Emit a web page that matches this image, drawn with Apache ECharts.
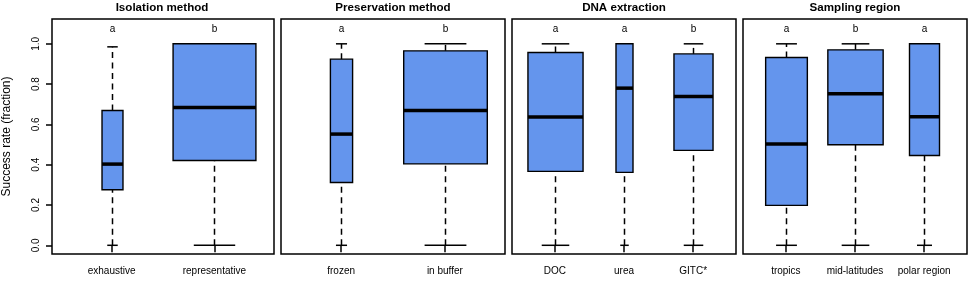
<!DOCTYPE html>
<html>
<head>
<meta charset="utf-8">
<script src="https://cdn.jsdelivr.net/npm/echarts@6/dist/echarts.min.js"></script>
<style>
  html, body { margin: 0; padding: 0; background: #fff; }
  #chart { width: 970px; height: 281px; }
</style>
</head>
<body>
<div id="chart"></div>
<script>
const panelTitles = ['Isolation method', 'Preservation method', 'DNA extraction', 'Sampling region'];

const isolationCats = ['exhaustive', 'representative'];
const preservationCats = ['frozen', 'in buffer'];
const extractionCats = ['DOC', 'urea', 'GITC*'];
const regionCats = ['tropics', 'mid-latitudes', 'polar region'];

// [lower whisker, Q1, median, Q3, upper whisker]
const isolationStats = [[0, 0.276, 0.403, 0.669, 0.985], [0, 0.421, 0.684, 1.0, 1.0]];
const preservationStats = [[0, 0.312, 0.552, 0.924, 1.0], [0, 0.404, 0.669, 0.965, 1.0]];
const extractionStats = [[0, 0.367, 0.637, 0.957, 1.0], [0, 0.362, 0.780, 1.0, 1.0], [0, 0.471, 0.739, 0.950, 1.0]];
const regionStats = [[0, 0.198, 0.503, 0.932, 1.0], [0, 0.499, 0.752, 0.970, 1.0], [0, 0.446, 0.638, 1.0, 1.0]];

const isolationLetters = ['a', 'b'];
const preservationLetters = ['a', 'b'];
const extractionLetters = ['a', 'a', 'b'];
const regionLetters = ['a', 'b', 'a'];

const yTicks = [0, 0.2, 0.4, 0.6, 0.8, 1.0];
const yTickLabels = ['0.0', '0.2', '0.4', '0.6', '0.8', '1.0'];
const yAxisTitle = 'Success rate (fraction)';

// styling / layout
const FONT = 'Liberation Sans, Arial, sans-serif';
const BOX_FILL = '#6495ED';
const LETTER_Y = 1.07;
// relative box widths (varwidth), in category units
const boxWidths = [[0.204, 0.806], [0.214, 0.806], [0.797, 0.246, 0.565], [0.603, 0.8, 0.434]];
const panelLefts = [50, 281, 512, 743];
const PANEL_W = 224, PANEL_TOP = 19, PANEL_H = 235;

const panels = [
  { title: panelTitles[0], cats: isolationCats, stats: isolationStats, letters: isolationLetters },
  { title: panelTitles[1], cats: preservationCats, stats: preservationStats, letters: preservationLetters },
  { title: panelTitles[2], cats: extractionCats, stats: extractionStats, letters: extractionLetters },
  { title: panelTitles[3], cats: regionCats, stats: regionStats, letters: regionLetters }
];

const chart = echarts.init(document.getElementById('chart'), null, { renderer: 'canvas' });

const makeRender = (widths, letters) => (params, api) => {
  const i = params.dataIndex;
  const x = api.value(0);
  const lo = api.coord([x, api.value(1)]);
  const q1 = api.coord([x, api.value(2)]);
  const md = api.coord([x, api.value(3)]);
  const q3 = api.coord([x, api.value(4)]);
  const hi = api.coord([x, api.value(5)]);
  const lab = api.coord([x, LETTER_Y]);
  const w = api.size([widths[i], 0])[0];
  const cx = Math.round(md[0]) + 0.5;
  const cap = w / 4;
  const dash = { stroke: '#000', lineWidth: 1.5, lineDash: [6, 4.5] };
  const solid = { stroke: '#000', lineWidth: 1.5 };
  return {
    type: 'group',
    children: [
      { type: 'line', shape: { x1: cx, y1: lo[1], x2: cx, y2: q1[1] }, style: dash },
      { type: 'line', shape: { x1: cx, y1: q3[1], x2: cx, y2: hi[1] }, style: dash },
      { type: 'line', shape: { x1: cx - cap, y1: lo[1], x2: cx + cap, y2: lo[1] }, style: solid },
      { type: 'line', shape: { x1: cx - cap, y1: hi[1], x2: cx + cap, y2: hi[1] }, style: solid },
      {
        type: 'rect',
        shape: { x: cx - w / 2, y: q3[1], width: w, height: q1[1] - q3[1] },
        style: { fill: BOX_FILL, stroke: '#000', lineWidth: 1.4 }
      },
      { type: 'line', shape: { x1: cx - w / 2, y1: md[1], x2: cx + w / 2, y2: md[1] }, style: { stroke: '#000', lineWidth: 3.5 } },
      {
        type: 'text',
        x: cx, y: lab[1],
        style: { text: letters[i], align: 'center', verticalAlign: 'middle', fontSize: 10, fontFamily: FONT, fill: '#000' }
      }
    ]
  };
};

const grid = [], xAxis = [], yAxis = [], series = [], graphic = [];

panels.forEach((p, k) => {
  const n = p.cats.length;
  const ext = 0.04 * n;
  grid.push({
    left: panelLefts[k], top: PANEL_TOP, width: PANEL_W, height: PANEL_H,
    show: true, borderColor: '#000', borderWidth: 1.5, backgroundColor: 'transparent'
  });
  const centers = p.cats.map((c, i) => i + 1);
  xAxis.push({
    gridIndex: k, type: 'value', min: 0.5 - ext, max: n + 0.5 + ext,
    axisLine: { show: false },
    splitLine: { show: false },
    axisTick: { show: true, length: 7, customValues: centers, lineStyle: { color: '#000', width: 1.5 } },
    axisLabel: {
      show: true, customValues: centers, margin: 12,
      formatter: v => p.cats[Math.round(v) - 1] || '',
      fontSize: 10, fontFamily: FONT, color: '#000'
    }
  });
  yAxis.push({
    gridIndex: k, type: 'value', min: -0.0432, max: 1.1232,
    axisLine: { show: false },
    splitLine: { show: false },
    axisTick: { show: k === 0, length: 6, customValues: yTicks, lineStyle: { color: '#000', width: 1.5 } },
    axisLabel: {
      show: k === 0, customValues: yTicks, rotate: 90, margin: 11,
      formatter: v => yTickLabels[yTicks.findIndex(t => Math.abs(t - v) < 1e-6)] || '',
      fontSize: 10, fontFamily: FONT, color: '#000'
    },
    name: k === 0 ? yAxisTitle : '',
    nameLocation: 'middle', nameGap: 39,
    nameTextStyle: { fontSize: 12, fontFamily: FONT, color: '#000' }
  });
  series.push({
    type: 'custom',
    xAxisIndex: k, yAxisIndex: k,
    clip: false,
    renderItem: makeRender(boxWidths[k], p.letters),
    encode: { x: 0, y: [1, 2, 3, 4, 5] },
    data: p.stats.map((s, i) => [i + 1].concat(s))
  });
  graphic.push({
    type: 'text',
    x: panelLefts[k] + PANEL_W / 2, y: 8,
    style: { text: p.title, align: 'center', verticalAlign: 'middle', font: 'bold 11.6px ' + FONT, fill: '#000' }
  });
});

chart.setOption({
  animation: false,
  backgroundColor: '#fff',
  grid, xAxis, yAxis, series, graphic
});
</script>
</body>
</html>
